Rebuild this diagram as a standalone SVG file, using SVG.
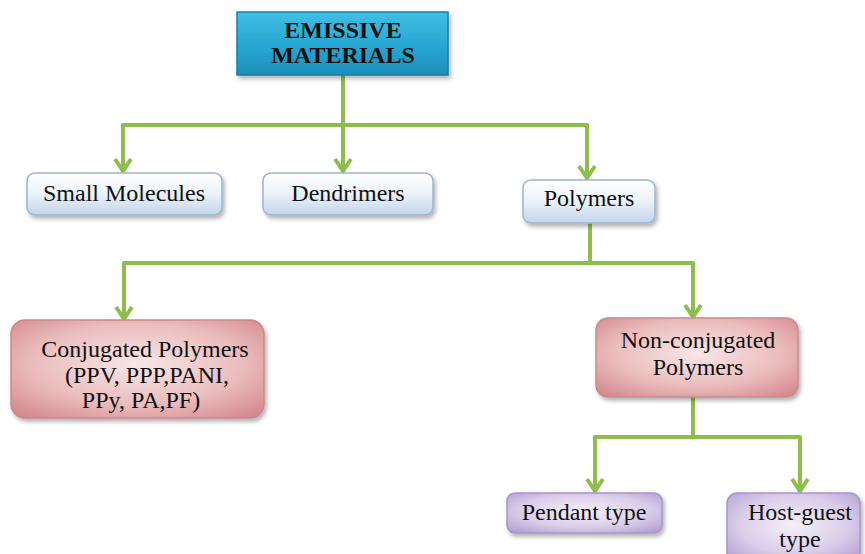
<svg xmlns="http://www.w3.org/2000/svg" width="865" height="554" viewBox="0 0 865 554">
  <defs>
    <linearGradient id="gTop" x1="0" y1="0" x2="0" y2="1">
      <stop offset="0" stop-color="#3fbfe3"/>
      <stop offset="0.5" stop-color="#28a9d3"/>
      <stop offset="1" stop-color="#1b8fba"/>
    </linearGradient>
    <linearGradient id="gBlue" x1="0" y1="0" x2="0" y2="1">
      <stop offset="0" stop-color="#ffffff"/>
      <stop offset="0.45" stop-color="#eef4fa"/>
      <stop offset="1" stop-color="#c3d6ea"/>
    </linearGradient>
    <radialGradient id="gPink" cx="0.5" cy="0.45" r="0.75">
      <stop offset="0" stop-color="#f8e6e6"/>
      <stop offset="0.55" stop-color="#ebbcbd"/>
      <stop offset="1" stop-color="#cf7f84"/>
    </radialGradient>
    <radialGradient id="gPurple" cx="0.5" cy="0.45" r="0.75">
      <stop offset="0" stop-color="#f4f0f9"/>
      <stop offset="0.55" stop-color="#d9cde9"/>
      <stop offset="1" stop-color="#ab96cc"/>
    </radialGradient>
    <filter id="sh" x="-10%" y="-10%" width="125%" height="130%">
      <feDropShadow dx="2" dy="3" stdDeviation="2" flood-color="#000" flood-opacity="0.3"/>
    </filter>
    <marker id="arr" viewBox="-2 -11 16 22" markerWidth="16" markerHeight="22" markerUnits="userSpaceOnUse" refX="12" refY="0" orient="auto">
      <path d="M0,-8 L12,0 L0,8" fill="none" stroke="#8dbd4a" stroke-width="4" stroke-linejoin="miter"/>
    </marker>
  </defs>
  <style>
    .c { fill: none; stroke: #8dbd4a; stroke-width: 4; stroke-linejoin: round; }
    .t { font-family: 'Liberation Serif', Tinos, 'Times New Roman', 'DejaVu Serif', serif; font-size: 24px; fill: #111; text-anchor: middle; }
    .b { font-weight: bold; }
    .blue { fill: url(#gBlue); stroke: #9ab4d2; stroke-width: 1.5; filter: url(#sh); }
    .pink { fill: url(#gPink); stroke: #c98a8d; stroke-width: 1.5; filter: url(#sh); }
    .purple { fill: url(#gPurple); stroke: #a796c6; stroke-width: 1.5; filter: url(#sh); }
  </style>
  <rect width="865" height="554" fill="#ffffff"/>

  <g id="connectors">
    <path class="c" d="M343,75 V125"/>
    <path class="c" d="M123,171 V125 H587 V178" marker-end="url(#arr)"/>
    <path class="c" d="M123,125 V171" marker-end="url(#arr)"/>
    <path class="c" d="M343,125 V171" marker-end="url(#arr)"/>
    <path class="c" d="M590,223 V263"/>
    <path class="c" d="M124,319 V263 H693 V317" marker-end="url(#arr)"/>
    <path class="c" d="M124,263 V319" marker-end="url(#arr)"/>
    <path class="c" d="M693,397 V437"/>
    <path class="c" d="M595,491 V437 H800 V491" marker-end="url(#arr)"/>
    <path class="c" d="M595,437 V491" marker-end="url(#arr)"/>
  </g>

  <g id="emissive-materials">
    <rect x="237" y="12" width="211" height="63" fill="url(#gTop)" stroke="#1a7ea6" stroke-width="1.5" filter="url(#sh)"/>
    <text class="t b" x="343" y="38">EMISSIVE</text>
    <text class="t b" x="343" y="63">MATERIALS</text>
  </g>

  <g id="small-molecules">
    <rect class="blue" x="27" y="173" width="195" height="42" rx="8"/>
    <text class="t" x="124" y="201">Small Molecules</text>
  </g>

  <g id="dendrimers">
    <rect class="blue" x="263" y="173" width="170" height="42" rx="8"/>
    <text class="t" x="348" y="201">Dendrimers</text>
  </g>

  <g id="polymers">
    <rect class="blue" x="523" y="180" width="132" height="43" rx="8"/>
    <text class="t" x="589" y="206">Polymers</text>
  </g>

  <g id="conjugated-polymers">
    <rect class="pink" x="11" y="320" width="253" height="98" rx="14"/>
    <text class="t" x="145" y="357">Conjugated Polymers</text>
    <text class="t" x="147" y="383">(PPV, PPP,PANI,</text>
    <text class="t" x="141" y="408">PPy, PA,PF)</text>
  </g>

  <g id="non-conjugated-polymers">
    <rect class="pink" x="596" y="318" width="202" height="79" rx="12"/>
    <text class="t" x="698" y="348">Non-conjugated</text>
    <text class="t" x="698" y="375">Polymers</text>
  </g>

  <g id="pendant-type">
    <rect class="purple" x="507" y="493" width="155" height="40" rx="8"/>
    <text class="t" x="584" y="520">Pendant type</text>
  </g>

  <g id="host-guest-type">
    <rect class="purple" x="727" y="493" width="133" height="70" rx="10"/>
    <text class="t" x="800" y="520">Host-guest</text>
    <text class="t" x="800" y="547">type</text>
  </g>
</svg>
